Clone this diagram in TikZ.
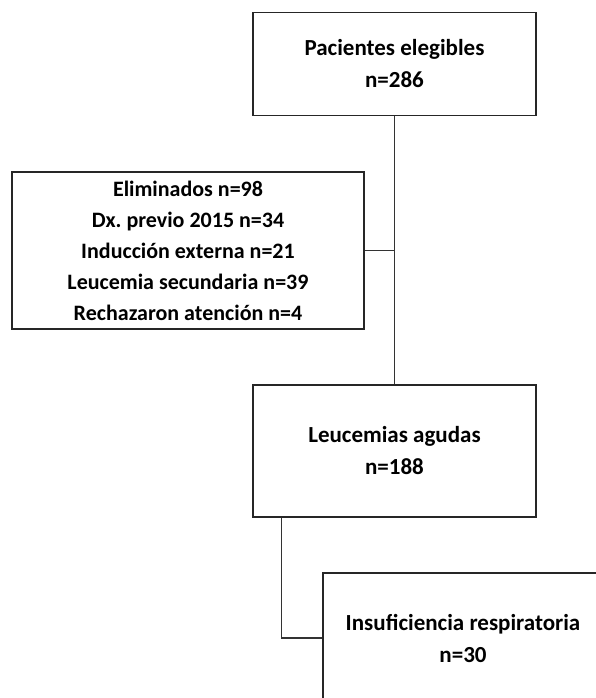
\documentclass[tikz,border=0pt]{standalone}
\usepackage{fontspec}
\setmainfont{Carlito}
\usetikzlibrary{positioning,calc}

\tikzset{
    flowbox/.style={draw=black!85,line width=1.3pt,fill=white,align=center,
        font=\fontsize{23}{32}\selectfont\bfseries,inner sep=0pt},
    listbox/.style={flowbox,font=\fontsize{22}{31}\selectfont\bfseries},
    link/.style={draw=black!80,line width=1.3pt}
}

\begin{document}
\begin{tikzpicture}[x=1pt,y=-1pt]
    \clip (0,0) rectangle (596,698);
    \fill[white] (0,0) rectangle (596,698);

    \node[flowbox,minimum width=283pt,minimum height=103pt] (pac) at (394.5,64) {Pacientes elegibles\\n=286};
    \node[listbox,minimum width=352pt,minimum height=157pt] (elim) at (188,250.5)
        {Eliminados n=98\\Dx.\ previo 2015 n=34\\Inducción externa n=21\\Leucemia secundaria n=39\\Rechazaron atención n=4};
    \node[flowbox,minimum width=283pt,minimum height=132pt] (leu) at (394.5,451) {Leucemias agudas\\n=188};
    \node[flowbox,minimum width=280pt,minimum height=130pt] (ins) at (463,638) {Insuficiencia respiratoria\\n=30};

    \coordinate (lk) at ($(leu.south west)+(29,0)$);

    \draw[link] (pac.south) -- (leu.north);
    \draw[link] (elim.east) -- (elim.east -| pac.south);
    \draw[link] (lk) |- (ins.west);
\end{tikzpicture}
\end{document}
